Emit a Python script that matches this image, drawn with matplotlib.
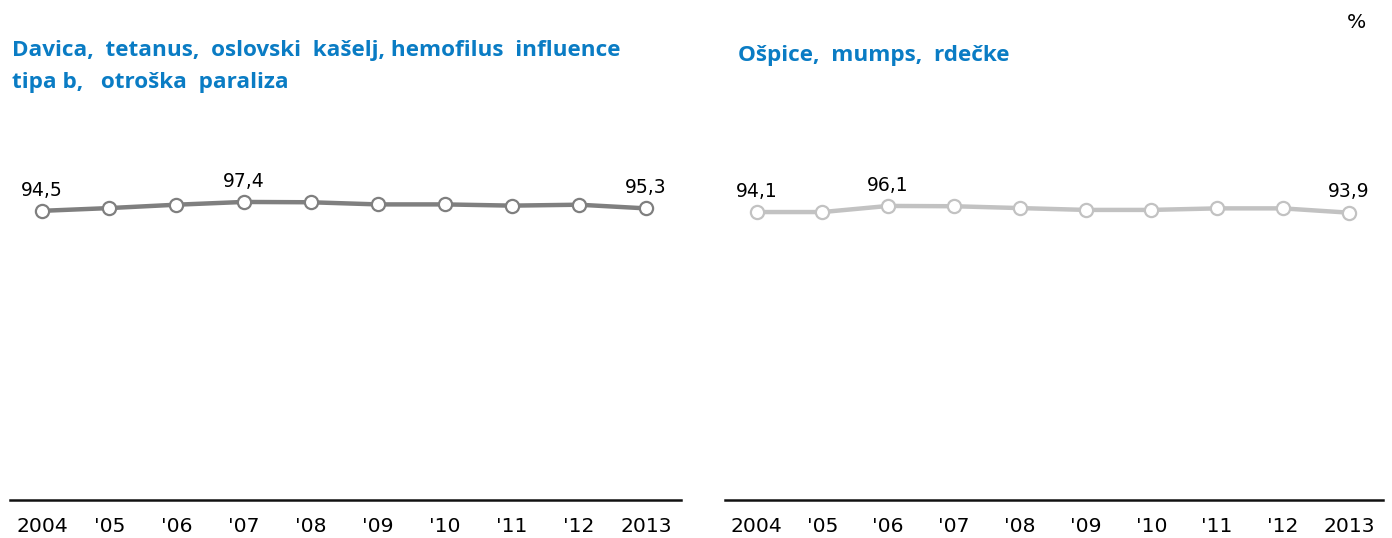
import matplotlib
matplotlib.use("Agg")
import matplotlib.pyplot as plt

years = ["2004", "'05", "'06", "'07", "'08", "'09", "'10", "'11", "'12", "2013"]
dtp_values = [94.5, 95.4, 96.5, 97.4, 97.3, 96.6, 96.6, 96.2, 96.5, 95.3]
mmr_values = [94.1, 94.1, 96.1, 96.0, 95.4, 94.8, 94.8, 95.3, 95.3, 93.9]
left_title_1 = "Davica,  tetanus,  oslovski  kašelj, hemofilus  influence"
left_title_2 = "tipa b,   otroška  paraliza"
right_title = "Ošpice,  mumps,  rdečke"
labeled_idx = [0, 3, 9]
labeled_idx_r = [0, 2, 9]

W, H = 1392, 538
fig = plt.figure(figsize=(W / 100, H / 100), dpi=100)

tick_font = dict(family="DejaVu Sans")
title_color = "#0a7cc4"

def make_panel(x0, x1, values, color, lab_idx):
    ax = fig.add_axes([x0 / W, (H - 500) / H, (x1 - x0) / W, 306 / H])
    xs = list(range(len(values)))
    ax.plot(xs, values, color=color, lw=3.2, marker="o", ms=9.5,
            mfc="white", mec=color, mew=1.6, zorder=3, clip_on=False)
    ax.set_xlim(-0.48, 9.52)
    ax.set_ylim(0, 100)
    for s in ["top", "left", "right"]:
        ax.spines[s].set_visible(False)
    ax.spines["bottom"].set_linewidth(1.8)
    ax.spines["bottom"].set_color("#111111")
    ax.set_yticks([])
    ax.set_xticks(xs)
    ax.set_xticklabels(years, fontsize=14.6, **tick_font)
    ax.tick_params(axis="x", length=0, pad=12)
    for i in lab_idx:
        ax.annotate(f"{values[i]:.1f}".replace(".", ","), (xs[i], values[i]),
                    xytext=(0, 11), textcoords="offset points",
                    ha="center", va="baseline", fontsize=13.5, **tick_font)
    return ax

make_panel(10, 681, dtp_values, "#7f7f7f", labeled_idx)
make_panel(725, 1383, mmr_values, "#c2c2c2", labeled_idx_r)

tkw = dict(color=title_color, fontsize=16.2, fontweight="bold",
           family="Open Sans", va="baseline", ha="left")
fig.text(12 / W, 1 - 56 / H, left_title_1, **tkw)
fig.text(12 / W, 1 - 88 / H, left_title_2, **tkw)
fig.text(738 / W, 1 - 61 / H, right_title, **tkw)
fig.text(1356 / W, 1 - 23 / H, "%", fontsize=14.6, va="center", ha="center",
         **tick_font)

fig.savefig("out.png", dpi=100)
